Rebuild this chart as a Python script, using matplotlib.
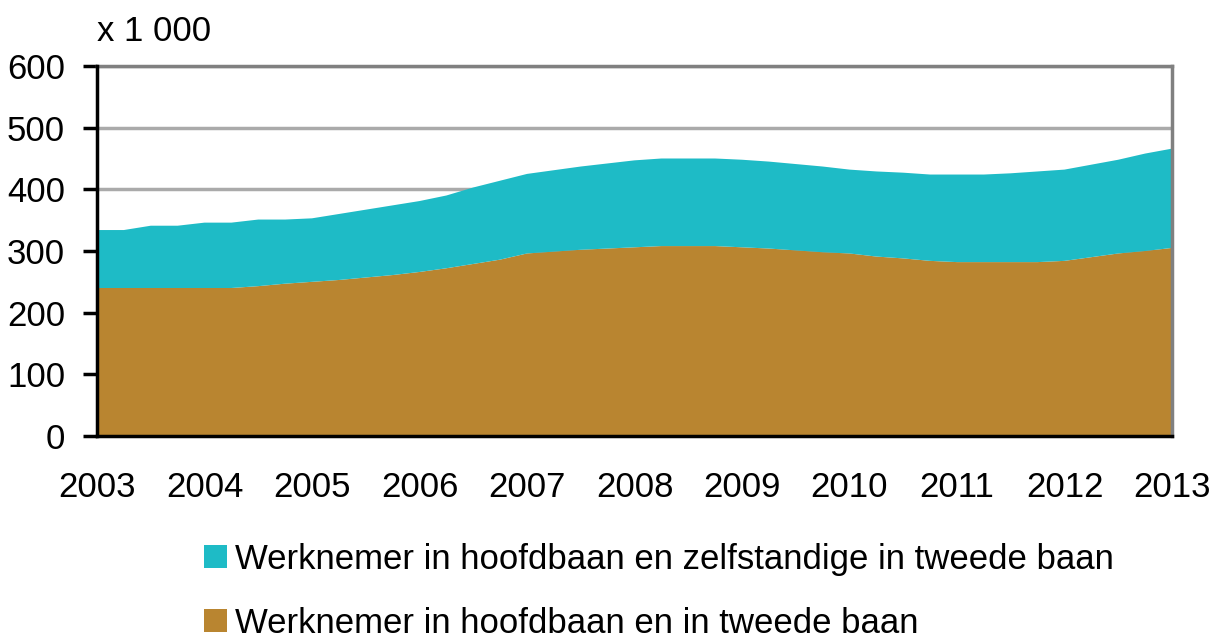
import matplotlib
matplotlib.use("Agg")
import matplotlib.pyplot as plt
from matplotlib.patches import Patch
import numpy as np

plt.rcParams['font.family'] = ['Liberation Sans', 'DejaVu Sans']

# Quarterly positions 2003 .. 2013 (x 1 000)
years = [2003 + 0.25 * i for i in range(41)]
tweede_baan = [240, 240, 240, 240, 240, 240, 243, 247, 250, 253,
               257, 261, 266, 272, 279, 286, 296, 299, 302, 304,
               306, 308, 308, 308, 306, 304, 301, 298, 296, 291,
               288, 284, 282, 282, 282, 282, 284, 290, 296, 300, 305]
zelfstandig = [94, 94, 101, 101, 106, 106, 108, 104, 103, 107,
               110, 113, 115, 118, 124, 128, 129, 132, 135, 138,
               141, 142, 142, 142, 142, 141, 140, 139, 136, 138,
               139, 140, 142, 142, 144, 147, 148, 150, 152, 158, 161]
labels = ["Werknemer in hoofdbaan en zelfstandige in tweede baan",
          "Werknemer in hoofdbaan en in tweede baan"]
xticks = list(range(2003, 2014))
yticks = [0, 100, 200, 300, 400, 500, 600]

c_teal = '#1EBBC6'
c_brown = '#B98530'

fig = plt.figure(figsize=(12.11, 6.36), dpi=100)
ax = fig.add_axes([97/1211, 1-436/636, (1172-97)/1211, (436-66)/636])

ax.stackplot(years, tweede_baan, zelfstandig, colors=[c_brown, c_teal],
             linewidth=0, zorder=2)

ax.set_xlim(2003, 2013)
ax.set_ylim(0, 600)
ax.set_xticks(xticks)
ax.set_xticklabels([str(x) for x in xticks])
ax.set_yticks(yticks)
ax.yaxis.grid(True, color='#AAAAAA', linewidth=2.5, zorder=0)
ax.set_axisbelow(True)

for s in ['left', 'bottom']:
    ax.spines[s].set_color('black')
    ax.spines[s].set_linewidth(2.5)
    ax.spines[s].set_zorder(5)
for s in ['top', 'right']:
    ax.spines[s].set_color('#808080')
    ax.spines[s].set_linewidth(2.5)

ax.tick_params(axis='y', length=10, width=2.5, pad=13, labelsize=25, color='black')
ax.tick_params(axis='x', length=0, pad=25, labelsize=25)

fig.text(97/1211, 1-41/636, 'x 1 000', fontsize=25, ha='left', va='baseline')

handles = [Patch(facecolor=c_teal, edgecolor='none'),
           Patch(facecolor=c_brown, edgecolor='none')]
fig.legend(handles, labels, loc='upper left', bbox_to_anchor=(204/1211, 1-543/636),
           frameon=False, fontsize=25, handlelength=0.65, handleheight=0.65,
           handletextpad=0.25, labelspacing=0.88, borderaxespad=0, borderpad=0)

fig.savefig('out.png', dpi=100)
